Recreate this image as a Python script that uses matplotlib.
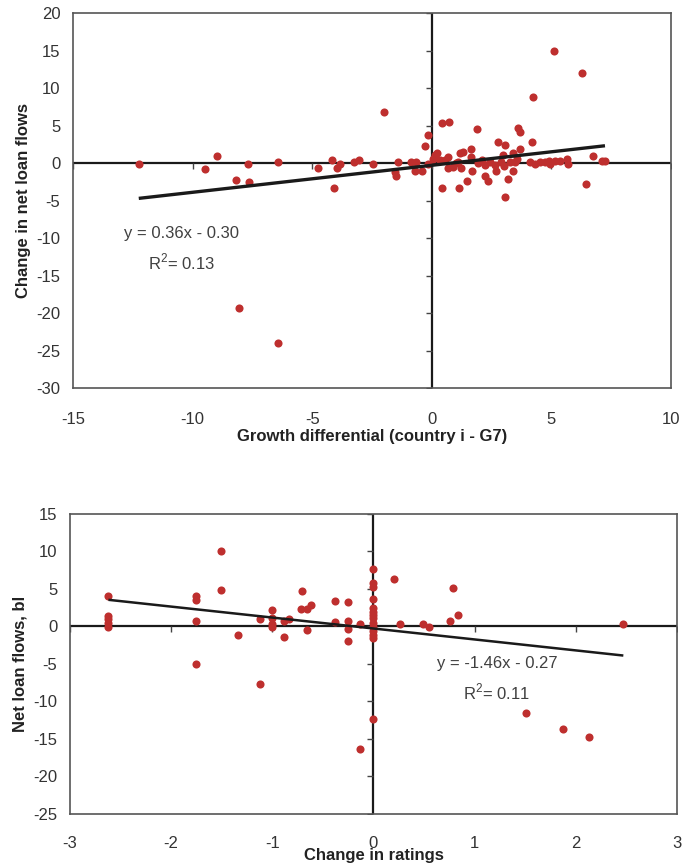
import numpy as np
import matplotlib
matplotlib.use('Agg')
import matplotlib.pyplot as plt

plt.rcParams['font.family'] = ['Liberation Sans', 'DejaVu Sans']
plt.rcParams['mathtext.fontset'] = 'custom'
plt.rcParams['mathtext.rm'] = 'Liberation Sans'

# Верхній графік: різниця темпів зростання vs зміна кредитних потоків
growth_x = [
    -12.25, -9.47, -8.97, -7.70, -8.20, -7.63, -6.43, -8.06, -6.43,
    -4.74, -4.17, -4.10, -3.97, -3.82, -3.25, -3.04, -2.47, -1.98,
    -1.52, -1.49, -1.41, -0.85, -0.64, -0.71, -0.43, -0.29, -0.15, -0.15,
    0.13, 0.20, 0.41, 0.71, 0.43, 0.33, 0.54, 0.68, 0.66, 0.89, 1.10,
    1.24, 1.17, 1.31, 1.13, 1.48, 1.63, 1.63, 1.70, 1.91, 1.94, 2.11,
    2.22, 2.24, 2.33, 2.64, 2.68, 2.75, 2.89, 2.98, 3.05, 3.05, 3.19,
    3.26, 3.40, 3.47, 3.40, 3.61, 3.68, 3.68, 4.17, 4.10, 4.31, 4.52,
    4.73, 4.90, 4.94, 5.15, 5.36, 5.64, 5.70, 6.43, 6.72, 7.10, 7.24,
    4.25, 5.10, 6.28, 2.45, 3.00, 3.55, 1.00, 0.05,
]
loan_change = [
    -0.17, -0.84, 0.97, -0.17, -2.20, -2.53, 0.09, -19.3, -24.0,
    -0.62, 0.36, -3.33, -0.62, -0.13, 0.09, 0.36, -0.17, 6.84,
    -1.16, -1.73, 0.10, 0.09, 0.09, -1.02, -1.02, 2.31, 3.69, -0.13,
    1.07, 1.29, 5.29, 5.47, -3.33, 0.40, 0.40, 0.76, -0.62, -0.49, 0.18,
    -0.62, 1.29, 1.51, -3.33, -2.44, 1.82, 0.76, -1.02, 4.58, -0.04, 0.40,
    -0.27, -1.73, -2.44, -0.27, -1.02, 2.84, 0.18, 1.07, 2.40, -4.49, -2.18,
    0.18, 1.29, 0.18, -1.02, 4.62, 4.09, 1.82, 2.76, 0.10, -0.10, 0.20,
    0.10, 0.30, -0.10, 0.30, 0.30, 0.50, -0.10, -2.84, 0.97, 0.31, 0.31,
    8.84, 14.93, 12.00, 0.20, -0.40, 0.60, 0.00, 0.60,
]
top_fit = (0.36, -0.30)
top_eq = 'y = 0.36x - 0.30\nR$^{\\mathregular{2}}$= 0.13'

# Нижній графік: зміна рейтингу vs чисті кредитні потоки
rating_x = [
    -2.62, -2.62, -2.62, -2.62, -2.62, -1.75, -1.75, -1.75, -1.75,
    -1.51, -1.51, -1.34, -1.12, -1.12, -1.00, -1.00, -1.00, -1.00,
    -0.88, -0.83, -0.88, -0.71, -0.72, -0.66, -0.62, -0.66, -0.38, -0.38,
    -0.25, -0.25, -0.25, -0.25, -0.13, -0.13,
    0.0, 0.0, 0.0, 0.0, 0.0, 0.0, 0.0, 0.0, 0.0, 0.0, 0.0, 0.0, 0.0, 0.0,
    0.20, 0.26, 0.49, 0.55, 0.76, 0.79, 0.84, 2.47, 1.51, 1.87, 2.13,
]
loan_flows = [
    4.07, 1.40, 0.96, 0.42, -0.02, 4.10, 3.53, 0.78, -5.00,
    10.07, 4.87, -1.09, 0.96, -7.70, 2.20, 1.10, 0.33, -0.10,
    0.78, 1.00, -1.44, 4.69, 2.38, 2.38, 2.91, -0.47, 3.44, 0.64,
    3.22, 0.78, -0.33, -1.93, 0.33, -16.4,
    7.62, 5.76, 5.22, 3.67, 2.42, 1.98, 1.53, 1.09, 0.51, -0.02, -0.56, -1.13,
    -1.58, -12.4,
    6.38, 0.33, 0.33, -0.02, 0.78, 5.09, 1.53, 0.33, -11.58, -13.71, -14.73,
]
bottom_fit = (-1.46, -0.27)
bottom_eq = 'y = -1.46x - 0.27\nR$^{\\mathregular{2}}$= 0.11'

dot_color = '#BE2F2E'
text_color = '#333333'


def draw_panel(ax, xs, ys, fit, eq, eq_pos, xlim, ylim, xstep, ystep,
               xlabel, ylabel, xpad, line_w):
    ax.set_xlim(*xlim)
    ax.set_ylim(*ylim)
    xt = np.arange(xlim[0], xlim[1] + xstep / 2, xstep)
    yt = np.arange(ylim[0], ylim[1] + ystep / 2, ystep)
    ax.set_xticks(xt)
    ax.set_yticks(yt)
    ax.set_xticklabels([f'{v:g}' for v in xt])
    ax.set_yticklabels([f'{v:g}' for v in yt])
    ax.tick_params(axis='both', length=0, labelsize=12, colors=text_color)
    ax.tick_params(axis='x', pad=xpad)
    ax.tick_params(axis='y', pad=9)
    for s in ax.spines.values():
        s.set_color('#555555')
        s.set_linewidth(1.2)

    # осі, що перетинаються в нулі, з рисками
    ax.axhline(0, color='#1a1a1a', lw=1.6, zorder=1)
    ax.axvline(0, color='#1a1a1a', lw=1.6, zorder=1)
    ax.plot(xt, np.zeros(len(xt)), ls='none', marker=3, ms=4,
            mew=1, color='#444444', zorder=1)
    ax.plot(np.zeros(len(yt)), yt, ls='none', marker=0, ms=4,
            mew=1, color='#444444', zorder=1)

    ax.scatter(xs, ys, s=34, color=dot_color, zorder=3, linewidths=0)

    x_line = np.array([min(xs), max(xs)])
    ax.plot(x_line, fit[0] * x_line + fit[1], color='#1a1a1a',
            lw=line_w, zorder=4, solid_capstyle='butt')

    ax.text(eq_pos[0], eq_pos[1], eq, ha='center', va='center',
            fontsize=12, color='#404040', linespacing=1.6)

    ax.set_xlabel(xlabel, fontsize=12, fontweight='bold', color='#222222',
                  labelpad=2)
    ax.set_ylabel(ylabel, fontsize=12, fontweight='bold', color='#222222',
                  labelpad=4)


fig = plt.figure(figsize=(6.84, 8.65), dpi=100)

ax1 = fig.add_axes([0.1067, 0.5514, 0.8743, 0.4335])
draw_panel(ax1, growth_x, loan_change, top_fit, top_eq, (-10.46, -11.5),
           (-15, 10), (-30, 20), 5, 5,
           'Growth differential (country i - G7)', 'Change in net loan flows',
           17, 2.4)

ax2 = fig.add_axes([0.1023, 0.059, 0.8874, 0.3468])
draw_panel(ax2, rating_x, loan_flows, bottom_fit, bottom_eq, (1.22, -7.05),
           (-3, 3), (-25, 15), 1, 5,
           'Change in ratings', 'Net loan flows, bl', 16, 1.8)
ax2.xaxis.label.set_va('center')
ax2.xaxis.set_label_coords(0.5, -0.137)

fig.savefig('out.png', dpi=100)
